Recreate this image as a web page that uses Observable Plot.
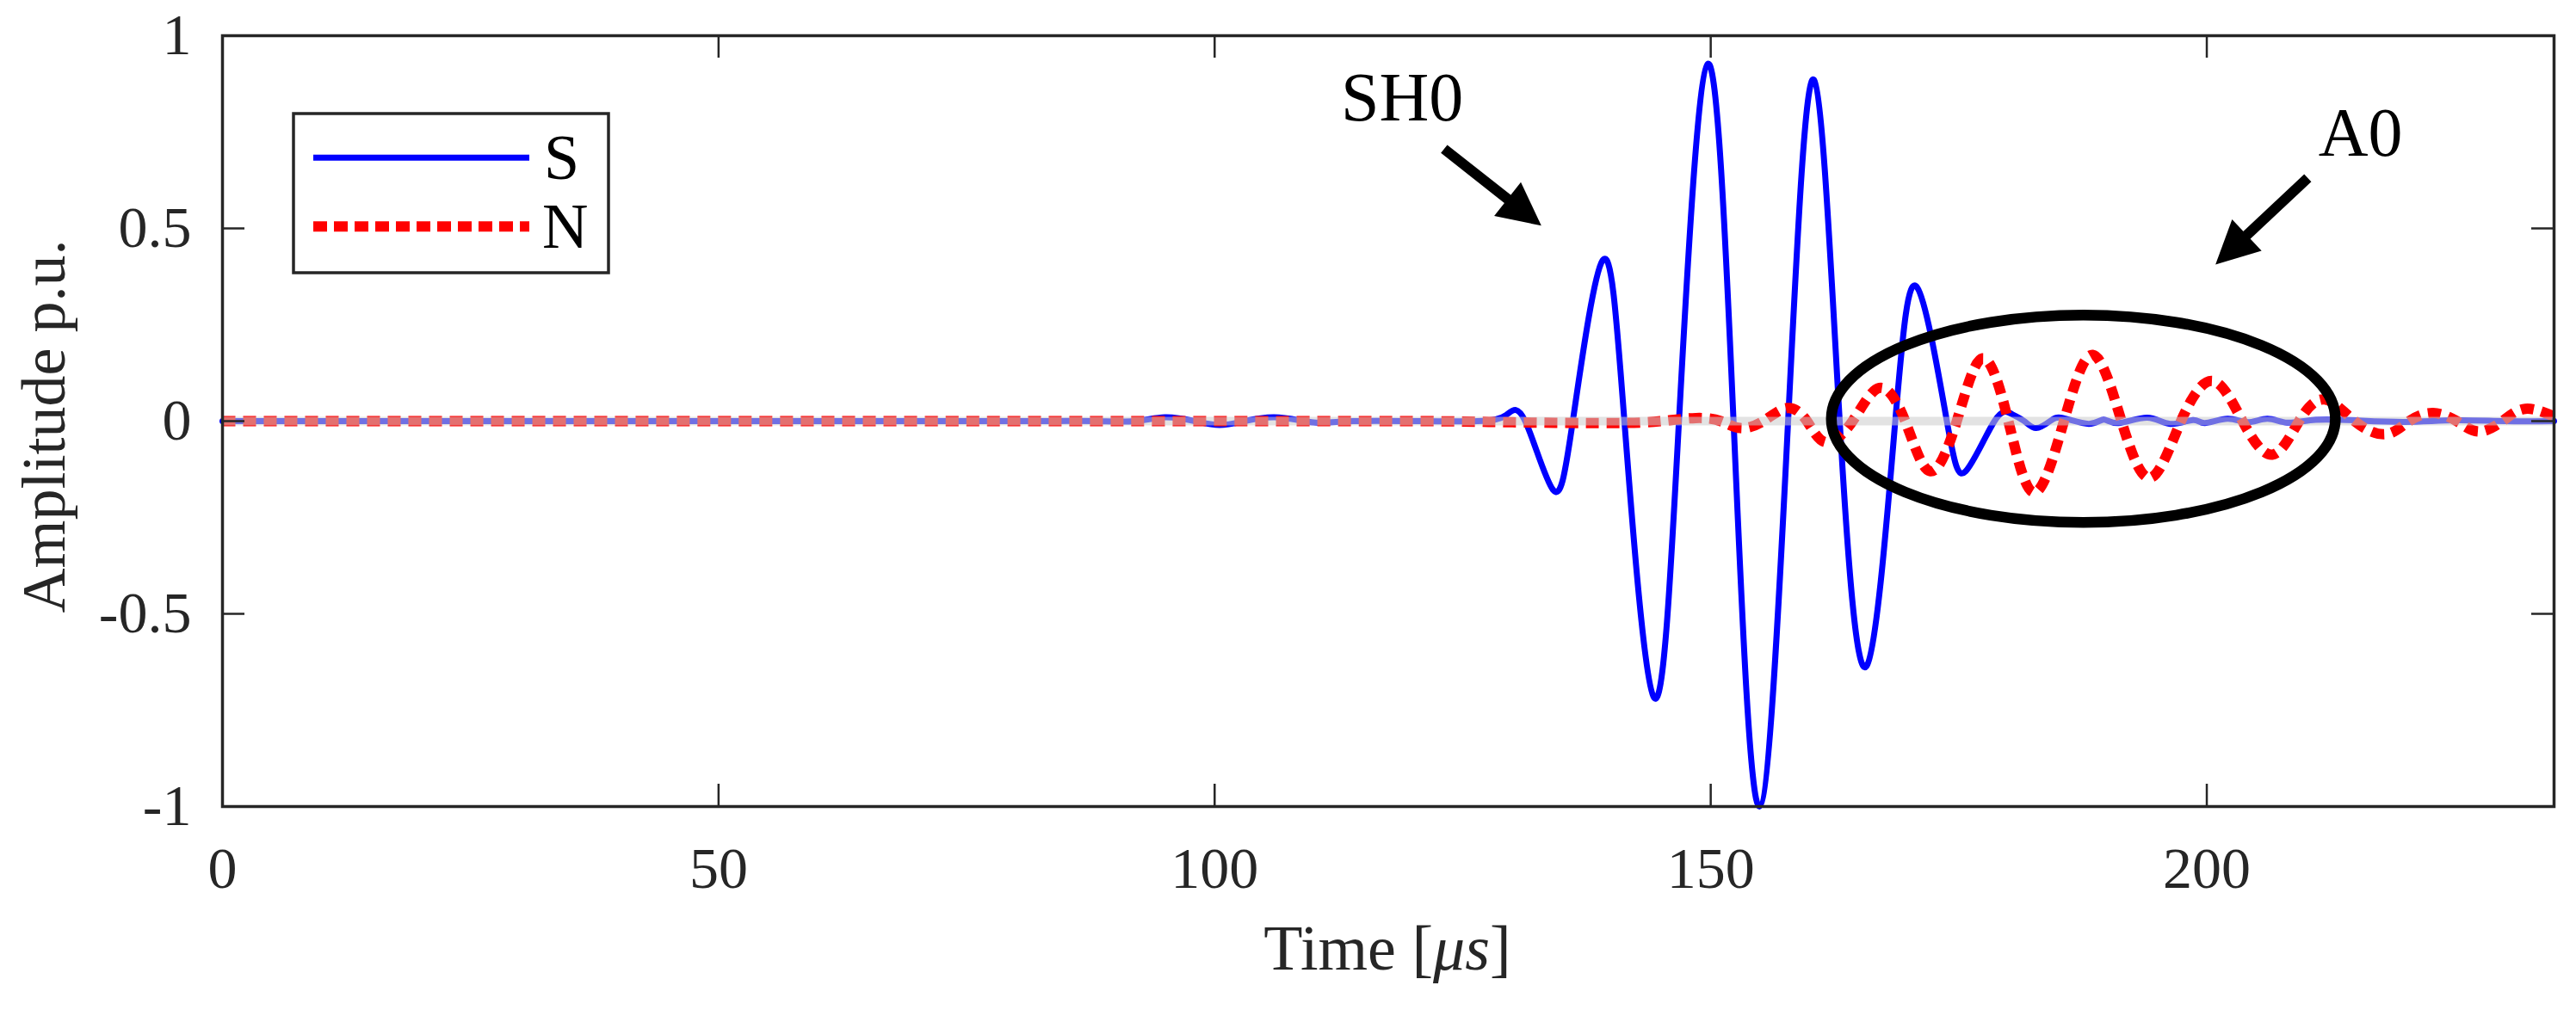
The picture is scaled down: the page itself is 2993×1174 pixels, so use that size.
<!DOCTYPE html>
<html><head><meta charset="utf-8">
<script src="https://cdn.jsdelivr.net/npm/d3@7"></script>
<script src="https://cdn.jsdelivr.net/npm/@observablehq/plot@0.6"></script>
<style>html,body{margin:0;padding:0;background:#fff;overflow:hidden}</style>
</head><body><div id="chart"></div>
<script>
// ---- data ----
const sTime = [0,20,40,60,80,88,92,95,98,100.5,103,106,109,111,114,120,126.5,129.4,131.3,134.1,136.1,139.1,141.3,144.3,146.8,149.7,152.3,154.9,157.8,160.4,163.0,165.7,168.6,170.8,173.8,175.7,178.6,180.3,181.6,182.8,184.2,185.5,188.1,189.6,191.1,194.0,196.3,198.6,199.8,202.1,204.1,206.1,208.1,210.7,215,220,225,230,235];
const sAmp  = [0,0,0,0,0,0,0,0.01,0,-0.01,0,0.01,0,-0.004,0,0,0,0.016,0,-0.178,0,0.417,0,-0.718,0,0.927,0,-1.0,0,0.886,0,-0.636,0,0.347,0,-0.13,0,0.019,0,-0.018,0,0.008,-0.007,0.004,-0.005,0.009,-0.007,0.003,-0.005,0.006,-0.003,0.006,-0.004,0.003,0.002,-0.002,0.002,0,0];
const nTime = [0,20,40,60,80,100,120,130,140,145,148.5,151,153,155.3,157.7,159.7,161.6,164.3,167.0,169.6,172.1,174.8,177.4,180.0,182.6,185.6,188.5,191.4,194.3,197.4,200.6,203.6,206.6,209.3,211.9,214.9,218.0,220.4,222.8,225.2,227.4,229.8,232.1,235];
const nAmp  = [0,0,0,0,0,0,0,-0.003,-0.005,0,0.008,0,-0.018,0,0.034,0,-0.055,0,0.086,0,-0.13,0,0.163,0,-0.185,0,0.172,0,-0.147,0,0.104,0,-0.087,0,0.056,0,-0.034,0,0.021,0,-0.027,0,0.032,0.012];
const xTicks = [0,50,100,150,200];
const yTicks = [-1,-0.5,0,0.5,1];
const seriesNames = ["S","N"];
const annoLabels = ["SH0","A0"];
const annoT = [118.9, 215.5];
const annoV = [0.838, 0.745];
// arrows: [startT, startV, tipT, tipV]
const arrowSH0 = [123.17, 0.705, 132.97, 0.506];
const arrowA0  = [210.22, 0.630, 200.92, 0.405];
// ellipse around A0 region: centre (t, v), radii (dt, dv)
const ellipseA0 = [187.6, 0.005, 25.4, 0.269];

const sData = sTime.map((t,i)=>({t, v:sAmp[i]}));
const nData = nTime.map((t,i)=>({t, v:nAmp[i]}));
const annotations = annoLabels.map((label,i)=>({label, t:annoT[i], v:annoV[i]}));

const W=2993, H=1174, mL=258, mR=26, mT=41, mB=237;
const plotW = W-mL-mR, plotH = H-mT-mB;
const tickLen = 26;
const font = "'Liberation Serif','Times New Roman',serif";
const axisColor = "#262626";
const dashN = "15,9";

const chart = Plot.plot({
  width: W, height: H,
  marginLeft: mL, marginRight: mR, marginTop: mT, marginBottom: mB,
  style: {fontFamily: font, fontSize: "68px", background: "#fff", color: axisColor},
  x: {domain: [0, 235]},
  y: {domain: [-1, 1]},
  marks: [
    Plot.line(sData, {x:"t", y:"v", stroke:"#0000ff", strokeWidth:7, curve:"natural"}),
    Plot.line(nData, {x:"t", y:"v", stroke:"#ff0000", strokeWidth:12, strokeDasharray:dashN, curve:"natural", ariaDescription:"series-N"}),
    Plot.ruleY([0], {stroke:"#cccccc", strokeOpacity:0.55, strokeWidth:10}),
    Plot.ruleX(xTicks, {x:d=>d, stroke:axisColor, strokeWidth:2.5, insetTop: plotH - tickLen}),
    Plot.ruleX(xTicks, {x:d=>d, stroke:axisColor, strokeWidth:2.5, insetBottom: plotH - tickLen}),
    Plot.ruleY(yTicks, {y:d=>d, stroke:axisColor, strokeWidth:2.5, insetRight: plotW - tickLen}),
    Plot.ruleY(yTicks, {y:d=>d, stroke:axisColor, strokeWidth:2.5, insetLeft: plotW - tickLen}),
    Plot.frame({stroke:axisColor, strokeWidth:3.5}),
    Plot.axisX({ticks:xTicks, tickSize:0, tickPadding:46, tickFormat:d=>String(d), label:null, fill:axisColor}),
    Plot.axisY({ticks:yTicks, tickSize:0, tickPadding:36, tickFormat:d=>String(d), label:null, fill:axisColor}),
    Plot.text(annotations, {x:"t", y:"v", text:"label", fontSize:80, fill:"#000", textAnchor:"middle", lineAnchor:"middle"})
  ]
});
document.getElementById("chart").appendChild(chart);

const svg = d3.select(chart);
// make sure the N series is drawn dotted
svg.selectAll("g[aria-description='series-N'], g[aria-description='series-N'] path")
  .attr("stroke-dasharray", dashN).attr("stroke-linecap","butt");

const sx = chart.scale("x"), sy = chart.scale("y");
const X = v => sx.apply(v), Y = v => sy.apply(v);

// ellipse annotation
const [ecT, ecV, erT, erV] = ellipseA0;
svg.append("ellipse")
  .attr("cx", X(ecT)).attr("cy", Y(ecV))
  .attr("rx", X(ecT+erT)-X(ecT)).attr("ry", Y(0)-Y(erV))
  .attr("fill","none").attr("stroke","#000").attr("stroke-width",12.5);

// arrows with filled heads
function arrow([t0,v0,t1,v1]) {
  const x0=X(t0), y0=Y(v0), x1=X(t1), y1=Y(v1);
  const dx=x1-x0, dy=y1-y0, len=Math.hypot(dx,dy);
  const ux=dx/len, uy=dy/len, px=-uy, py=ux;
  const hl=50, hw=25;
  const bx=x1-ux*hl, by=y1-uy*hl;
  svg.append("line").attr("x1",x0).attr("y1",y0).attr("x2",bx+ux*2).attr("y2",by+uy*2)
    .attr("stroke","#000").attr("stroke-width",12);
  svg.append("path")
    .attr("d",`M${x1},${y1}L${bx+px*hw},${by+py*hw}L${bx-px*hw},${by-py*hw}Z`)
    .attr("fill","#000");
}
arrow(arrowSH0);
arrow(arrowA0);

// legend
const lg = svg.append("g").attr("text-anchor","start");
lg.append("rect").attr("x",341).attr("y",132).attr("width",366).attr("height",185)
  .attr("fill","#fff").attr("stroke",axisColor).attr("stroke-width",3.5);
lg.append("line").attr("x1",364).attr("x2",615).attr("y1",183.3).attr("y2",183.3)
  .attr("stroke","#0000ff").attr("stroke-width",7);
lg.append("line").attr("x1",364).attr("x2",615).attr("y1",263.3).attr("y2",263.3)
  .attr("stroke","#ff0000").attr("stroke-width",12).attr("stroke-dasharray","16,8");
lg.append("text").attr("x",632).attr("y",208).attr("text-anchor","start").text(seriesNames[0])
  .attr("font-family",font).attr("font-size",74).attr("fill","#000");
lg.append("text").attr("x",630).attr("y",288).attr("text-anchor","start").text(seriesNames[1])
  .attr("font-family",font).attr("font-size",74).attr("fill","#000");

// axis titles
svg.append("text").attr("transform","translate(75,495.5) rotate(-90)")
  .attr("text-anchor","middle").attr("font-family",font).attr("font-size",72)
  .attr("fill",axisColor).text("Amplitude p.u.");
const xt = svg.append("text").attr("x",1612).attr("y",1127)
  .attr("text-anchor","middle").attr("font-family",font).attr("font-size",74).attr("fill",axisColor);
xt.append("tspan").text("Time [");
xt.append("tspan").attr("font-style","italic").text("\u03BCs");
xt.append("tspan").text("]");
</script>
</body></html>
